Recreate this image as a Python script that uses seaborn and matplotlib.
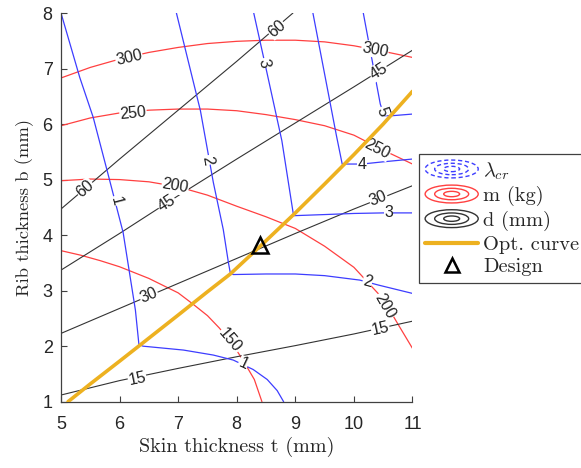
import numpy as np
import matplotlib
matplotlib.use("Agg")
import matplotlib.pyplot as plt
import seaborn as sns
from matplotlib.lines import Line2D
from matplotlib.patches import Ellipse
from matplotlib.legend_handler import HandlerBase

grid_t = [5.0, 5.5, 6.0, 6.5, 7.0, 7.5, 8.0, 8.5, 9.0, 9.5, 10.0, 10.5, 11.0]
m300_b = [6.83, 7.02, 7.17, 7.29, 7.38, 7.45, 7.49, 7.51, 7.51, 7.48, 7.41, 7.31, 7.2]
m250_b = [5.97, 6.11, 6.2, 6.25, 6.27, 6.27, 6.24, 6.17, 6.08, 5.97, 5.8, 5.53, 5.28]
m200_t = [5.0, 5.5, 6.0, 6.5, 7.0, 7.5, 8.0, 8.5, 9.0, 9.5, 10.0, 10.5, 10.75, 11.0]
m200_b = [4.98, 5.01, 5.0, 4.96, 4.87, 4.72, 4.52, 4.33, 4.12, 3.8, 3.42, 2.85, 2.4, 1.96]
m150_t = [5.0, 5.33, 5.67, 6.0, 6.5, 7.0, 7.25, 7.5, 7.7, 7.9, 8.1, 8.3, 8.43]
m150_b = [3.72, 3.64, 3.54, 3.43, 3.22, 2.96, 2.76, 2.55, 2.33, 2.08, 1.76, 1.4, 1.0]

d_t = [5.0, 6.0, 7.0, 8.0, 9.0, 10.0, 11.0]
d60_t = [5.0, 6.0, 7.0, 8.0, 8.96]
d60_b = [4.47, 5.37, 6.25, 7.13, 8.0]
d45_b = [3.37, 4.03, 4.71, 5.37, 6.02, 6.67, 7.33]
d30_b = [2.23, 2.68, 3.13, 3.58, 4.03, 4.47, 4.89]
d15_b = [1.12, 1.38, 1.6, 1.81, 2.01, 2.22, 2.45]

l1_t = [5.0, 5.32, 5.55, 5.8, 6.06, 6.27, 6.33, 6.4, 7.09, 7.6, 7.94, 8.28, 8.52, 8.69, 8.8]
l1_b = [8.0, 6.84, 6.12, 5.11, 4.05, 2.65, 2.03, 2.0, 1.93, 1.84, 1.75, 1.58, 1.4, 1.2, 1.0]
l2_t = [6.97, 7.38, 7.6, 7.77, 7.86, 7.89, 7.94, 8.5, 9.0, 9.5, 10.1, 10.42, 11.0]
l2_b = [8.0, 6.24, 4.95, 4.1, 3.49, 3.32, 3.29, 3.3, 3.3, 3.27, 3.19, 3.1, 2.95]
l3_t = [8.29, 8.5, 8.77, 8.97, 9.5, 10.0, 10.5, 11.0]
l3_b = [8.0, 7.0, 5.7, 4.35, 4.37, 4.39, 4.4, 4.4]
l4_t = [9.3, 9.7, 9.8, 10.14, 10.5, 11.0]
l4_b = [8.0, 5.8, 5.28, 5.28, 5.32, 5.37]
l5_t = [10.16, 10.45, 10.52, 10.65, 11.0]
l5_b = [8.0, 6.36, 6.15, 6.15, 6.18]

opt_t = [5.12, 5.5, 6.0, 6.35, 7.0, 7.5, 7.89, 8.4, 9.0, 9.5, 10.0, 10.5, 11.0]
opt_b = [1.0, 1.32, 1.73, 2.02, 2.56, 2.98, 3.3, 3.8, 4.4, 4.92, 5.45, 6.0, 6.59]
design_t, design_b = [8.4], [3.82]

BLUE = "#3d3dff"
RED = "#ff4040"
BLACK = "#333333"
ORANGE = "#EDB120"

sns.set_style("ticks", {"xtick.direction": "in", "ytick.direction": "in"})
plt.rcParams["mathtext.fontset"] = "cm"

fig = plt.figure(figsize=(5.81, 4.68), dpi=100)
ax = fig.add_axes([61 / 581, 1 - 401.7 / 468, 351.5 / 581, 388.7 / 468])
ax.set_xlim(5, 11)
ax.set_ylim(1, 8)


def draw_level(t, b, color, text, labels, lw=0.9):
    sns.lineplot(x=t, y=b, sort=False, estimator=None, color=color, lw=lw, ax=ax)
    pts = ax.transData.transform(np.column_stack([t, b]))
    for lt, lb in labels:
        p = ax.transData.transform([lt, lb])
        mids = (pts[:-1] + pts[1:]) / 2
        i = np.argmin(np.hypot(*(mids - p).T))
        dx, dy = pts[i + 1] - pts[i]
        ang = np.degrees(np.arctan2(dy, dx))
        if ang > 90:
            ang -= 180
        elif ang <= -90:
            ang += 180
        ax.text(lt, lb, text, rotation=ang, rotation_mode="anchor",
                ha="center", va="center", fontsize=11.5,
                family="Liberation Sans", color="#222222", zorder=4,
                bbox=dict(fc="white", ec="none", pad=0.4))


draw_level(grid_t, m300_b, RED, "300", [(6.16, 7.2), (10.36, 7.34)])
draw_level(grid_t, m250_b, RED, "250", [(6.23, 6.2), (10.4, 5.55)])
draw_level(m200_t, m200_b, RED, "200", [(6.95, 4.88), (10.52, 2.72)])
draw_level(m150_t, m150_b, RED, "150", [(7.88, 2.1)])

draw_level(d60_t, d60_b, BLACK, "60", [(5.41, 4.84), (8.68, 7.72)], lw=0.8)
draw_level(d_t, d45_b, BLACK, "45", [(6.8, 4.58), (10.42, 6.95)], lw=0.8)
draw_level(d_t, d30_b, BLACK, "30", [(6.5, 2.91), (10.42, 4.65)], lw=0.8)
draw_level(d_t, d15_b, BLACK, "15", [(6.3, 1.42), (10.45, 2.32)], lw=0.8)

draw_level(l1_t, l1_b, BLUE, "1", [(5.94, 4.62), (8.11, 1.68)])
draw_level(l2_t, l2_b, BLUE, "2", [(7.5, 5.35), (10.23, 3.16)])
draw_level(l3_t, l3_b, BLUE, "3", [(8.47, 7.1), (10.59, 4.4)])
draw_level(l4_t, l4_b, BLUE, "4", [(10.14, 5.28)])
draw_level(l5_t, l5_b, BLUE, "5", [(10.48, 6.22)])

sns.lineplot(x=opt_t, y=opt_b, sort=False, estimator=None, color=ORANGE,
             lw=2.6, ax=ax, zorder=5)
ax.plot(design_t, design_b, ls="none", marker="^", ms=11, mfc="none",
        mec="black", mew=1.8, zorder=6)

ax.set_xticks(range(5, 12))
ax.set_yticks(range(1, 9))
for lab in ax.get_xticklabels() + ax.get_yticklabels():
    lab.set_family("Liberation Sans")
    lab.set_fontsize(13)
    lab.set_color("#262626")
ax.tick_params(length=4, width=0.8, color="#404040")
ax.tick_params(axis="x", pad=10)
ax.tick_params(axis="y", pad=6)
sns.despine(ax=ax)
for s in ("left", "bottom"):
    ax.spines[s].set_color("#404040")
    ax.spines[s].set_linewidth(0.9)

ax.set_xlabel("Skin thickness t (mm)", family="cmr10", fontsize=14.5, labelpad=3)
ax.set_ylabel("Rib thickness b (mm)", family="cmr10", fontsize=13.4, labelpad=6)


class RingHandler(HandlerBase):
    def __init__(self, color, ls):
        super().__init__()
        self.color, self.ls = color, ls

    def create_artists(self, legend, orig_handle, xdescent, ydescent,
                       width, height, fontsize, trans):
        cx, cy = width / 2 - xdescent, height / 2 - ydescent
        arts = []
        for f in (1.0, 0.64, 0.3):
            e = Ellipse((cx, cy), width * f, height * 1.25 * f, fill=False,
                        ec=self.color, lw=1.0, ls=self.ls)
            arts.append(e)
        return arts


h_lam, h_m, h_d = Line2D([], []), Line2D([], []), Line2D([], [])
h_opt = Line2D([], [], color=ORANGE, lw=3)
h_des = Line2D([], [], ls="none", marker="^", ms=10, mfc="none", mec="black", mew=1.8)
leg = fig.legend(
    [h_lam, h_m, h_d, h_opt, h_des],
    [r"$\lambda_{cr}$", "m (kg)", "d (mm)", "Opt. curve", "Design"],
    handler_map={h_lam: RingHandler(BLUE, (0, (3, 2))),
                 h_m: RingHandler(RED, "-"),
                 h_d: RingHandler(BLACK, "-")},
    loc="upper left", bbox_to_anchor=(419 / 581, 1 - 154 / 468),
    borderaxespad=0, fancybox=False, edgecolor="#404040", framealpha=1,
    prop={"family": "cmr10", "size": 14.7}, handlelength=2.6,
    handletextpad=0.25, labelspacing=0.22, borderpad=0.3, numpoints=1)
leg.get_frame().set_linewidth(0.9)

fig.savefig("out.png", dpi=100)
